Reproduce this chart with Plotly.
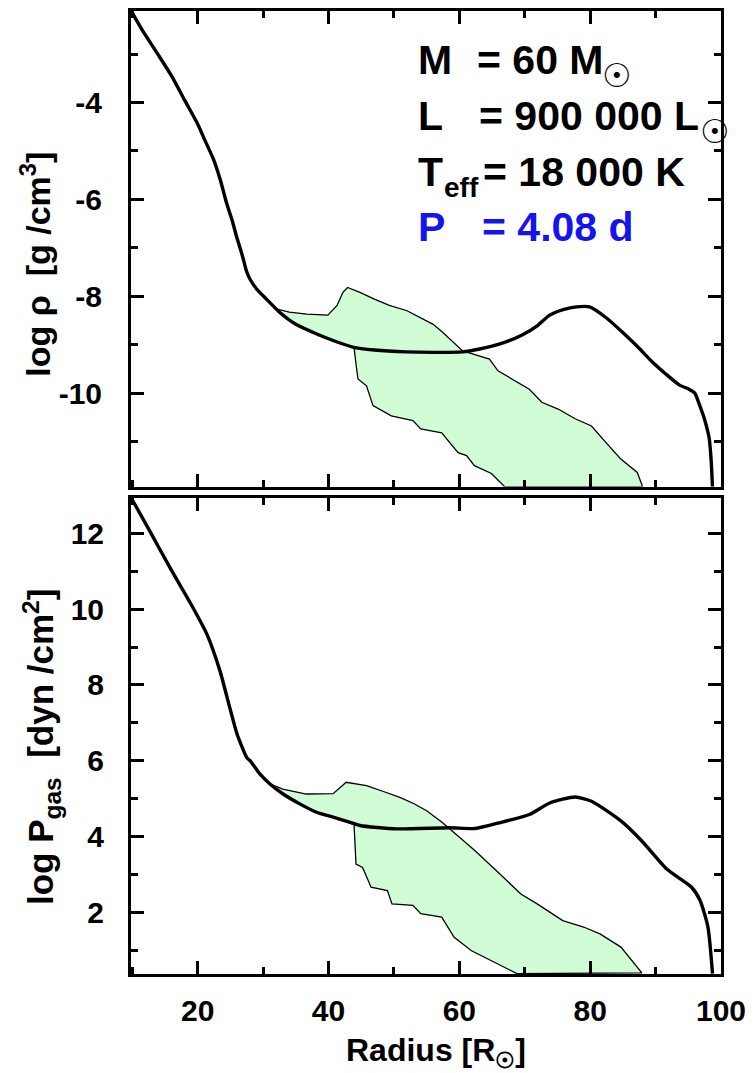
import plotly.graph_objects as go

# ---- stellar model profile: density (top) and gas pressure (bottom) vs radius ----
rho_r = [9.8, 11.5, 13.8, 16.0, 18.0, 19.9, 21.0, 22.4, 23.5, 24.4, 25.3, 25.9, 26.8, 27.5,
         28.0, 29.0, 30.5, 32.5, 35.0, 38.2, 41.0, 43.7, 47.0, 51.9, 56.0, 60.5, 63.1, 66.1,
         69.6, 72.0, 73.8, 76.0, 77.9, 79.9, 82.5, 84.9, 87.3, 89.5, 91.5, 93.6, 95.1, 96.0,
         96.7, 97.5, 98.2, 98.5, 98.7]
log_rho = [-2.10, -2.50, -2.98, -3.45, -3.95, -4.42, -4.75, -5.17, -5.62, -6.07, -6.45, -6.75,
           -7.15, -7.50, -7.65, -7.85, -8.06, -8.33, -8.58, -8.78, -8.93, -9.05, -9.11, -9.15,
           -9.16, -9.15, -9.09, -8.99, -8.80, -8.60, -8.39, -8.27, -8.22, -8.22, -8.45, -8.74,
           -9.05, -9.36, -9.60, -9.83, -9.92, -10.00, -10.24, -10.55, -10.94, -11.40, -11.95]

# shaded zone in the density panel: upper edge and lower edge
rho_zone_up_r = [32.0, 34.0, 36.7, 39.9, 41.3, 42.2, 42.9, 44.8, 47.0, 49.3, 52.0, 54.4, 56.0,
                 57.4, 59.0, 60.5, 62.5, 64.6, 65.9, 68.1, 70.7, 72.6, 75.1, 77.7, 80.2, 82.8,
                 84.6, 87.2, 88.0]
rho_zone_up = [-8.26, -8.33, -8.37, -8.39, -8.19, -7.92, -7.82, -7.92, -8.06, -8.19, -8.30,
               -8.47, -8.58, -8.74, -8.95, -9.13, -9.21, -9.30, -9.54, -9.71, -9.92, -10.19,
               -10.33, -10.53, -10.68, -11.08, -11.35, -11.64, -11.93]
rho_zone_lo_r = [32.0, 35.0, 38.2, 41.0, 43.9, 44.2, 44.5, 45.8, 46.8, 49.6, 52.9, 54.1, 57.3,
                 59.8, 61.1, 62.3, 64.9, 66.9]
rho_zone_lo = [-8.26, -8.58, -8.78, -8.93, -9.06, -9.40, -9.71, -9.85, -10.26, -10.47, -10.57,
               -10.74, -10.82, -11.23, -11.29, -11.50, -11.66, -11.93]

p_r = [9.95, 12.7, 15.8, 19.3, 21.4, 23.4, 24.9, 26.0, 27.5, 28.0, 29.5, 31.0, 33.05, 35.6,
       38.15, 40.7, 43.2, 44.8, 50.4, 58.5, 62.4, 66.1, 70.7, 73.9, 77.7, 80.2, 84.7, 87.9,
       91.7, 95.5, 96.8, 98.0, 98.7]
log_pgas = [12.90, 12.05, 11.08, 10.03, 9.34, 8.37, 7.40, 6.71, 6.08, 6.00, 5.65, 5.39, 5.12,
            4.86, 4.64, 4.51, 4.38, 4.29, 4.20, 4.23, 4.21, 4.36, 4.58, 4.89, 5.04, 4.93, 4.41,
            3.88, 3.14, 2.66, 2.31, 1.61, 0.38]

# shaded zone in the pressure panel
p_zone_up_r = [31.0, 33.0, 36.6, 40.7, 42.7, 45.8, 48.5, 50.9, 53.0, 55.0, 57.4, 58.5, 62.4,
               66.2, 69.4, 71.9, 75.8, 79.0, 81.5, 84.7, 87.9]
p_zone_up = [5.39, 5.25, 5.12, 5.13, 5.43, 5.34, 5.18, 5.03, 4.87, 4.68, 4.37, 4.21, 3.62,
             3.01, 2.48, 2.22, 1.78, 1.61, 1.43, 1.08, 0.40]
p_zone_lo_r = [31.0, 33.05, 35.6, 38.15, 40.7, 43.9, 44.0, 44.2, 45.2, 46.5, 49.0, 49.7, 52.9,
               54.1, 57.3, 59.2, 61.8, 64.9, 68.8]
p_zone_lo = [5.39, 5.12, 4.86, 4.64, 4.51, 4.31, 3.80, 3.27, 3.18, 2.66, 2.57, 2.22, 2.18,
             1.96, 1.87, 1.34, 0.99, 0.73, 0.38]

x_ticks = [20, 40, 60, 80, 100]
rho_ticks = [-4, -6, -8, -10]
rho_ticktext = ["-4", "-6", "-8", "-10"]
p_ticks = [2, 4, 6, 8, 10, 12]

ZONE_FILL = "#d0fcd6"
FONT = "Liberation Sans, Arial, sans-serif"
SYMBOL_FONT = "DejaVu Sans, Liberation Sans, sans-serif"

fig = go.Figure()


def zone(xu, yu, xl, yl, xa, ya):
    return go.Scatter(x=xu + xl[::-1], y=yu + yl[::-1], fill="toself", fillcolor=ZONE_FILL,
                      mode="lines", line=dict(color="black", width=1.3),
                      xaxis=xa, yaxis=ya, showlegend=False, hoverinfo="skip")


def profile(x, y, xa, ya):
    return go.Scatter(x=x, y=y, mode="lines",
                      line=dict(color="black", width=3.4, shape="spline", smoothing=0.6),
                      xaxis=xa, yaxis=ya, showlegend=False)


fig.add_trace(zone(rho_zone_up_r, rho_zone_up, rho_zone_lo_r, rho_zone_lo, "x", "y"))
fig.add_trace(profile(rho_r, log_rho, "x", "y"))
fig.add_trace(zone(p_zone_up_r, p_zone_up, p_zone_lo_r, p_zone_lo, "x2", "y2"))
fig.add_trace(profile(p_r, log_pgas, "x2", "y2"))

axis_common = dict(showline=True, linewidth=3, linecolor="black", mirror="ticks",
                   ticks="inside", ticklen=13, tickwidth=2.5, tickcolor="black",
                   showgrid=False, zeroline=False,
                   tickfont=dict(family=FONT, size=30, color="black", weight="bold"))
minor_x = dict(ticks="inside", ticklen=7, tickwidth=2.5, dtick=10, tick0=0, tickcolor="black")
minor_y = dict(ticks="inside", ticklen=7, tickwidth=2.5, dtick=1, tick0=0, tickcolor="black")

fig.update_layout(
    width=755, height=1073,
    margin=dict(l=131, r=34, t=8, b=99),
    paper_bgcolor="white", plot_bgcolor="white",
    xaxis=dict(**axis_common, range=[9.8, 100], domain=[0, 1], anchor="y",
               tickvals=x_ticks, showticklabels=False, minor=minor_x),
    yaxis=dict(**axis_common, range=[-11.93, -2.11], domain=[0.5062, 1], anchor="x",
               tickvals=rho_ticks, ticktext=rho_ticktext, ticklabelstandoff=20,
               minor=minor_y),
    xaxis2=dict(**axis_common, range=[9.8, 100], domain=[0, 1], anchor="y2",
                tickvals=x_ticks, ticklabelstandoff=8, minor=minor_x),
    yaxis2=dict(**axis_common, range=[0.37, 12.92], domain=[0, 0.4938], anchor="x2",
                tickvals=p_ticks, ticklabelstandoff=18, minor=minor_y),
)


def text(t, x, y, size, color="black", xanchor="left", family=FONT, angle=0):
    return dict(text=t, xref="paper", yref="paper", x=x, y=y, showarrow=False,
                xanchor=xanchor, yanchor="middle", textangle=angle,
                font=dict(family=family, weight="bold", color=color, size=size))


ann = []
# axis titles
ann.append(text("log ρ  [g /cm<sup>3</sup>]", -0.162, 0.737, 34, xanchor="center", angle=-90))
ann.append(text("log P<sub>gas</sub>  [dyn /cm<sup>2</sup>]", -0.152, 0.236, 35,
                xanchor="center", angle=-90))
ann.append(text("Radius [R<sub>☉</sub>]", 0.517, -0.081, 32, xanchor="center"))

# model parameters, one row per quantity
BLUE = "#1414f0"
ann.append(text("M", 0.4831, 0.9496, 41))
ann.append(text("= 60 M", 0.5825, 0.9496, 41))
ann.append(text("☉", 0.8237, 0.9330, 33, xanchor="center", family=SYMBOL_FONT))
ann.append(text("L", 0.4831, 0.8906, 41))
ann.append(text("= 900 000 L", 0.5864, 0.8906, 41))
ann.append(text("☉", 0.9898, 0.8751, 33, xanchor="center", family=SYMBOL_FONT))
ann.append(text("T", 0.4831, 0.8333, 41))
ann.append(text("eff", 0.5271, 0.8168, 28))
ann.append(text("= 18 000 K", 0.5932, 0.8333, 41))
ann.append(text("P", 0.4831, 0.7754, 41, color=BLUE))
ann.append(text("= 4.08 d", 0.5910, 0.7754, 41, color=BLUE))

fig.update_layout(annotations=ann)
fig.write_html("out.html")
